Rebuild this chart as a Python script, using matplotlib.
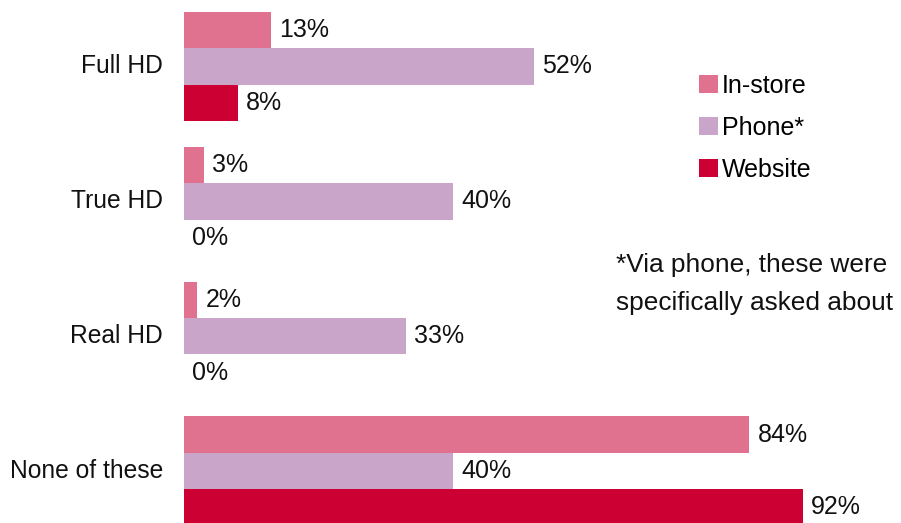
import matplotlib
matplotlib.use("Agg")
import matplotlib.pyplot as plt
from matplotlib.patches import Patch
import numpy as np

plt.rcParams['font.family'] = ['Liberation Sans', 'DejaVu Sans']

categories = ["Full HD", "True HD", "Real HD", "None of these"]
series_names = ["In-store", "Phone*", "Website"]
in_store = [13, 3, 2, 84]
phone = [52, 40, 33, 40]
website = [8, 0, 0, 92]
colors = ["#E0728F", "#C9A5C9", "#CC0033"]

W, H = 901, 523
fig = plt.figure(figsize=(W / 100, H / 100), dpi=100)
ax = fig.add_axes([184 / W, 0, 673 / W, 1])

bar_h = 0.27
y = np.arange(len(categories))
offsets = [-bar_h, 0, bar_h]
for vals, off, col in zip([in_store, phone, website], offsets, colors):
    bars = ax.barh(y + off, vals, height=bar_h, color=col, edgecolor='none')
    for b, v in zip(bars, vals):
        ax.annotate(f"{v}%", (b.get_width(), b.get_y() + b.get_height() / 2),
                    xytext=(5.8, 0), textcoords='offset points',
                    va='center', ha='left', fontsize=18, color='#111111')

ax.set_xlim(0, 100)
ax.set_ylim(3.386, -0.493)
ax.axis('off')

for yi, cat in zip(y, categories):
    ax.annotate(cat, (0, yi), xytext=(-15.3, 0), textcoords='offset points',
                va='center', ha='right', fontsize=17.7, color='#111111')

handles = [Patch(facecolor=c, edgecolor='none') for c in colors]
fig.legend(handles, series_names, loc='upper left',
           bbox_to_anchor=(699 / W, 1 - 74 / H), frameon=False,
           fontsize=18, handlelength=0.74, handleheight=0.74,
           handletextpad=0.18, labelspacing=0.72, borderpad=0,
           borderaxespad=0)

fig.text(616 / W, 1 - 272 / H, "*Via phone, these were", fontsize=18.9,
         ha='left', va='baseline', color='#111111')
fig.text(616 / W, 1 - 310 / H, "specifically asked about", fontsize=18.9,
         ha='left', va='baseline', color='#111111')

fig.savefig("out.png", dpi=100)
